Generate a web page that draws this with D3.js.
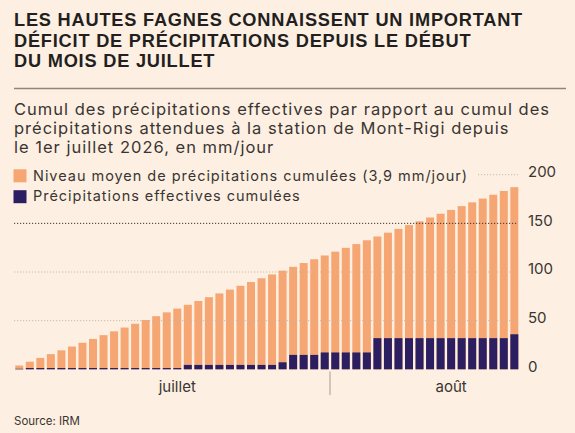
<!DOCTYPE html>
<html>
<head>
<meta charset="utf-8">
<script src="https://cdn.jsdelivr.net/npm/d3@7/dist/d3.min.js"></script>
<style>
  html, body { margin: 0; padding: 0; background: #fdf0e2; }
  svg { display: block; }
</style>
</head>
<body>
<svg id="chart" width="575" height="433"></svg>
<script>
// ---- Data ----
const titleLines = [
  "LES HAUTES FAGNES CONNAISSENT UN IMPORTANT",
  "DÉFICIT DE PRÉCIPITATIONS DEPUIS LE DÉBUT",
  "DU MOIS DE JUILLET"
];
const subtitleLines = [
  "Cumul des précipitations effectives par rapport au cumul des",
  "précipitations attendues à la station de Mont-Rigi depuis",
  "le 1er juillet 2026, en mm/jour"
];
const legendLabels = [
  "Niveau moyen de précipitations cumulées (3,9 mm/jour)",
  "Précipitations effectives cumulées"
];
const days = [
  "02/07","03/07","04/07","05/07","06/07","07/07","08/07","09/07","10/07","11/07",
  "12/07","13/07","14/07","15/07","16/07","17/07","18/07","19/07","20/07","21/07",
  "22/07","23/07","24/07","25/07","26/07","27/07","28/07","29/07","30/07","31/07",
  "01/08","02/08","03/08","04/08","05/08","06/08","07/08","08/08","09/08","10/08",
  "11/08","12/08","13/08","14/08","15/08","16/08","17/08","18/08"
];
const expected = [
  3.9, 7.8, 11.7, 15.6, 19.5, 23.4, 27.3, 31.2, 35.1, 39.0,
  42.9, 46.8, 50.7, 54.6, 58.5, 62.4, 66.3, 70.2, 74.1, 78.0,
  81.9, 85.8, 89.7, 93.6, 97.5, 101.4, 105.3, 109.2, 113.1, 117.0,
  120.9, 124.8, 128.7, 132.6, 136.5, 140.4, 144.3, 148.2, 152.1, 156.0,
  159.9, 163.8, 167.7, 171.6, 175.5, 179.4, 183.3, 187.2
];
const actual = [
  0.5, 1.3, 1.3, 1.3, 1.3, 1.3, 1.3, 1.3, 1.3, 1.3,
  1.3, 1.3, 1.3, 1.3, 1.3, 1.3, 4.5, 4.5, 4.5, 4.5,
  4.5, 4.5, 4.5, 4.5, 4.5, 7.2, 14.8, 14.8, 14.8, 17.3,
  17.3, 17.3, 17.3, 17.3, 32.0, 32.0, 32.0, 32.0, 32.0, 32.0,
  32.0, 32.0, 32.0, 32.0, 32.0, 32.0, 32.0, 36.0
];
const months = [
  { name: "juillet", labelDay: "17/07" },
  { name: "août", labelDay: "12/08" }
];
const monthBoundary = ["31/07", "01/08"];
const yTicks = [0, 50, 100, 150, 200];
const source = "Source: IRM";

// ---- Styles ----
const C = {
  bg: "#fdf0e2",
  title: "#231f20",
  text: "#3a3533",
  orange: "#f6a673",
  navy: "#2b1f62",
  gridLight: "#c9b39e",
  gridDark: "#3d3431",
  rule: "#8e867e"
};
const FONT = "Inter, 'Noto Sans', 'DejaVu Sans', sans-serif";
const TITLE_FONT = "'Liberation Sans', Arial, sans-serif";

const svg = d3.select("#chart");
svg.append("rect").attr("width", 575).attr("height", 433).attr("fill", C.bg);

// adjust letter-spacing so that a text spans targetW
function fitSpacing(node, targetW) {
  const s = d3.select(node);
  s.attr("letter-spacing", 0);
  const w = node.getComputedTextLength();
  const n = s.text().length;
  return (targetW - w) / n;
}

// Title
const title = svg.append("g").attr("font-family", TITLE_FONT).attr("font-weight", 700).attr("fill", C.title);
const tl = title.selectAll("text").data(titleLines).join("text")
  .attr("x", 14).attr("y", (d, i) => 26 + i * 20.5)
  .attr("font-size", 18.2).text(d => d);
const tLs = fitSpacing(tl.nodes()[0], 509);
tl.attr("letter-spacing", tLs);

// Rule
svg.append("line").attr("x1", 14).attr("x2", 566).attr("y1", 88.5).attr("y2", 88.5)
  .attr("stroke", C.rule).attr("stroke-width", 1.3);

// Subtitle
const sub = svg.append("g").attr("font-family", FONT).attr("fill", C.text);
const sl = sub.selectAll("text").data(subtitleLines).join("text")
  .attr("x", 14).attr("y", (d, i) => 114.5 + i * 19.3)
  .attr("font-size", 16.5).text(d => d);
const sLs = fitSpacing(sl.nodes()[0], 536);
sl.attr("letter-spacing", sLs);

// Scales
const x = d3.scaleBand().domain(days).range([14, 519.6]).paddingInner(0.24).paddingOuter(0.12);
const y = d3.scaleLinear().domain([0, 200]).range([369.3, 174.7]);

// Bars
const bars = svg.append("g");
bars.selectAll("rect.exp").data(days).join("rect").attr("class", "exp")
  .attr("x", d => x(d)).attr("width", x.bandwidth())
  .attr("y", (d, i) => y(expected[i])).attr("height", (d, i) => y(0) - y(expected[i]))
  .attr("fill", C.orange);
bars.selectAll("rect.act").data(days).join("rect").attr("class", "act")
  .attr("x", d => x(d)).attr("width", x.bandwidth())
  .attr("y", (d, i) => y(actual[i])).attr("height", (d, i) => y(0) - y(actual[i]))
  .attr("fill", C.navy);

// Legend
const leg = svg.append("g").attr("font-family", FONT).attr("fill", C.text);
const legColors = [C.orange, C.navy];
leg.selectAll("rect").data(legendLabels).join("rect")
  .attr("x", 13.5).attr("y", (d, i) => 169.3 + i * 20.9)
  .attr("width", 13).attr("height", 13).attr("fill", (d, i) => legColors[i]);
const ll = leg.selectAll("text").data(legendLabels).join("text")
  .attr("x", 33).attr("y", (d, i) => 180.5 + i * 20.9)
  .attr("font-size", 14.5).text(d => d);
const lLs = fitSpacing(ll.nodes()[0], 435);
ll.attr("letter-spacing", lLs);
const legEnd = 33 + ll.nodes()[0].getComputedTextLength();

// Gridlines (drawn over bars)
const gridX0 = x.range()[0], gridX1 = 518;
const grid = svg.append("g");
grid.selectAll("line").data(yTicks.filter(t => t > 0)).join("line")
  .attr("x1", d => d === 200 ? legEnd + 10 : gridX0).attr("x2", gridX1)
  .attr("y1", d => y(d)).attr("y2", d => y(d))
  .attr("stroke", d => d === 150 ? C.gridDark : C.gridLight)
  .attr("stroke-width", d => d === 150 ? 1 : 0.9)
  .attr("stroke-dasharray", "1.2,1.8");

// Y axis
const yAxis = d3.axisRight(y).tickValues(yTicks).tickSize(0).tickPadding(0).tickFormat(d3.format("d"));
const ya = svg.append("g").attr("transform", "translate(528,-3)").call(yAxis);
ya.select(".domain").remove();
ya.selectAll("text").attr("font-family", FONT).attr("font-size", 15).attr("fill", C.text);

// X axis: month separator and labels
const sepX = (x(monthBoundary[0]) + x.bandwidth() + x(monthBoundary[1])) / 2;
svg.append("line").attr("x1", sepX).attr("x2", sepX).attr("y1", 371.5).attr("y2", 395)
  .attr("stroke", "#a59c94").attr("stroke-width", 1);
svg.append("g").attr("font-family", FONT).attr("font-size", 15).attr("fill", C.text)
  .selectAll("text").data(months).join("text")
  .attr("x", d => x(d.labelDay) + x.bandwidth() / 2)
  .attr("y", 392).attr("text-anchor", "middle").text(d => d.name);

// Source
svg.append("text").attr("x", 14).attr("y", 425).attr("font-family", FONT)
  .attr("font-size", 11.5).attr("fill", C.text).text(source);
</script>
</body>
</html>
